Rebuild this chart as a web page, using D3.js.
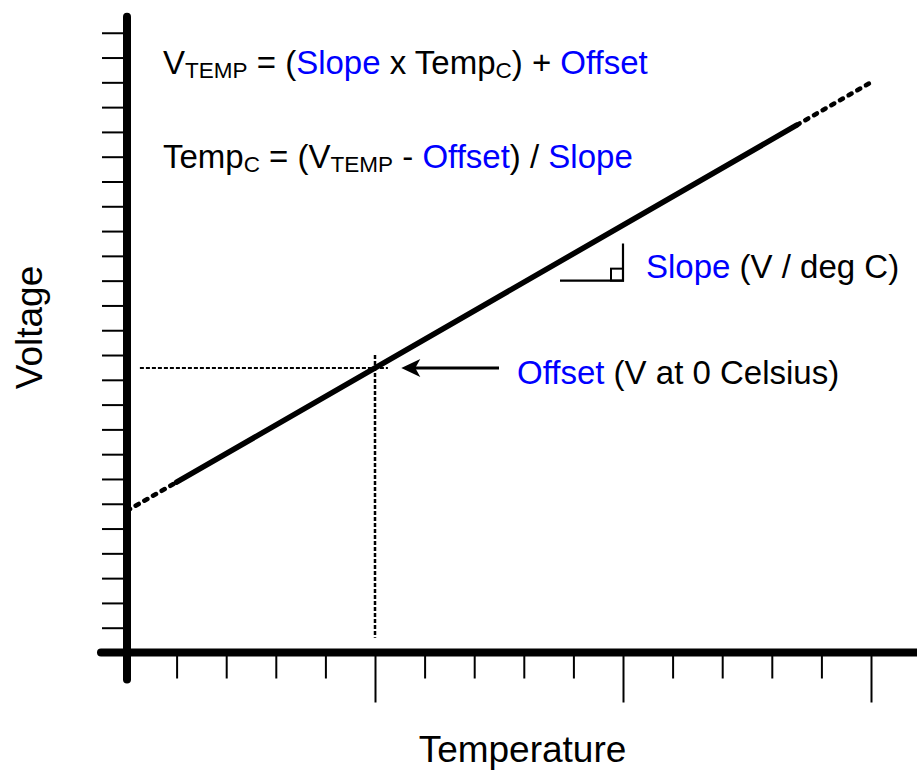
<!DOCTYPE html>
<html>
<head>
<meta charset="utf-8">
<script src="https://cdn.jsdelivr.net/npm/d3@7"></script>
<style>
  html, body { margin: 0; padding: 0; background: #fff; }
  svg { display: block; }
  text { font-family: "Liberation Sans", Arial, Helvetica, sans-serif; }
</style>
</head>
<body>
<svg id="chart" width="917" height="770"></svg>
<script>
// ---- data ----
const xTicks = [-40, -30, -20, -10, 0, 10, 20, 30, 40, 50, 60, 70, 80, 90, 100];   // temperature ticks (deg C)
const xMajorTicks = [0, 50, 100];
const yTicks = d3.range(1, 26);                                                      // voltage ticks (arbitrary units)
const solidTemps = [-40, 85];
const solidVolts = [6.87, 21.27];
const dashLowTemps = [-50, -40];
const dashLowVolts = [5.72, 6.87];
const dashHighTemps = [85, 100];
const dashHighVolts = [21.27, 23.0];
const offsetGuideT = [-47.4, 2.6];   // horizontal dotted guide (at offset voltage)
const offsetGuideV = [12.0, 0.6];    // vertical dotted guide (at 0 deg C)
const offsetVolt = 11.48;
const arrowT = [25, 5.3];
const slopeIconT = [37.3, 50];
const slopeIconV = [15.0, 16.5];

// ---- scales ----
const svg = d3.select("#chart");
const x = d3.scaleLinear().domain([-50, 100]).range([127, 871]);
const y = d3.scaleLinear().domain([0, 25]).range([652.5, 32.75]);

const line = d3.line().x(d => x(d[0])).y(d => y(d[1]));
const zip = (a, b) => a.map((v, i) => [v, b[i]]);

// ---- data line ----
svg.append("path").datum(zip(dashLowTemps, dashLowVolts)).attr("d", line)
  .attr("fill", "none").attr("stroke", "#000").attr("stroke-width", 4.5)
  .attr("stroke-linecap", "round").attr("stroke-dasharray", "3.5 6.5");
svg.append("path").datum(zip(dashHighTemps, dashHighVolts)).attr("d", line)
  .attr("fill", "none").attr("stroke", "#000").attr("stroke-width", 4.5)
  .attr("stroke-linecap", "round").attr("stroke-dasharray", "3.5 6.5");
svg.append("path").datum(zip(solidTemps, solidVolts)).attr("d", line)
  .attr("fill", "none").attr("stroke", "#000").attr("stroke-width", 5.5)
  .attr("stroke-linecap", "round");

// ---- offset guides ----
svg.append("line")
  .attr("x1", x(offsetGuideT[0])).attr("x2", x(offsetGuideT[1]))
  .attr("y1", y(offsetVolt)).attr("y2", y(offsetVolt))
  .attr("stroke", "#000").attr("stroke-width", 2).attr("stroke-dasharray", "4 2");
svg.append("line")
  .attr("x1", x(0)).attr("x2", x(0))
  .attr("y1", y(offsetGuideV[0])).attr("y2", y(offsetGuideV[1]))
  .attr("stroke", "#000").attr("stroke-width", 2.5).attr("stroke-dasharray", "4 2");

// ---- arrow ----
const ay = y(offsetVolt);
const tipX = x(arrowT[1]);
svg.append("line").attr("x1", x(arrowT[0])).attr("x2", tipX + 12)
  .attr("y1", ay).attr("y2", ay).attr("stroke", "#000").attr("stroke-width", 3);
svg.append("path")
  .attr("d", `M${tipX},${ay} L${tipX + 19},${ay - 9} L${tipX + 14},${ay} L${tipX + 19},${ay + 9} Z`)
  .attr("fill", "#000");

// ---- slope icon ----
const sx0 = x(slopeIconT[0]), sx1 = x(slopeIconT[1]);
const sy0 = y(slopeIconV[0]), sy1 = y(slopeIconV[1]);
svg.append("path")
  .attr("d", `M${sx0},${sy0} H${sx1} V${sy1}`)
  .attr("fill", "none").attr("stroke", "#000").attr("stroke-width", 2.2);
svg.append("rect")
  .attr("x", sx1 - 12).attr("y", sy0 - 12).attr("width", 12).attr("height", 12)
  .attr("fill", "none").attr("stroke", "#000").attr("stroke-width", 2);

// ---- axes ----
const yAxis = d3.axisLeft(y).tickValues(yTicks).tickSize(25).tickFormat("");
const gy = svg.append("g").attr("transform", `translate(${x(-50)},0)`).call(yAxis);
gy.select(".domain").remove();
gy.selectAll(".tick line").attr("stroke", "#000").attr("stroke-width", 2);

const xAxis = d3.axisBottom(x).tickValues(xTicks)
  .tickSize(26).tickFormat("");
const gx = svg.append("g").attr("transform", `translate(0,${y(0)})`).call(xAxis);
gx.select(".domain").remove();
gx.selectAll(".tick line")
  .attr("stroke", "#000").attr("stroke-width", 2)
  .attr("y2", d => xMajorTicks.includes(d) ? 50 : 26);

// axis lines (thick)
svg.append("line")
  .attr("x1", x(-50)).attr("x2", x(-50))
  .attr("y1", y(25) - 16).attr("y2", y(0) + 27)
  .attr("stroke", "#000").attr("stroke-width", 8).attr("stroke-linecap", "round");
svg.append("line")
  .attr("x1", x(-50) - 26).attr("x2", x(100) + 60)
  .attr("y1", y(0)).attr("y2", y(0))
  .attr("stroke", "#000").attr("stroke-width", 8).attr("stroke-linecap", "round");

// ---- axis titles ----
svg.append("text").attr("x", 522.5).attr("y", 762)
  .attr("text-anchor", "middle").attr("font-size", 37).text("Temperature");
svg.append("text").attr("transform", "translate(42,327.5) rotate(-90)")
  .attr("text-anchor", "middle").attr("font-size", 37).text("Voltage");

// ---- formulas & annotations ----
const BLUE = "#0000ff";
function rich(xp, yp, parts) {
  const t = svg.append("text").attr("x", xp).attr("y", yp).attr("font-size", 33);
  parts.forEach(p => {
    const ts = t.append("tspan").text(p.t).attr("fill", p.c || "#000");
    if (p.sub) ts.attr("font-size", 22.5).attr("baseline-shift", "-4");
  });
  return t;
}
rich(163, 74, [
  {t: "V"}, {t: "TEMP", sub: true}, {t: " = ("}, {t: "Slope", c: BLUE},
  {t: " x Temp"}, {t: "C", sub: true}, {t: ") + "}, {t: "Offset", c: BLUE}
]);
rich(163, 168, [
  {t: "Temp"}, {t: "C", sub: true}, {t: " = (V"}, {t: "TEMP", sub: true},
  {t: " - "}, {t: "Offset", c: BLUE}, {t: ") / "}, {t: "Slope", c: BLUE}
]);
rich(646, 278, [{t: "Slope", c: BLUE}, {t: " (V / deg C)"}]);
rich(517, 384, [{t: "Offset", c: BLUE}, {t: " (V at 0 Celsius)"}]);
</script>
</body>
</html>
